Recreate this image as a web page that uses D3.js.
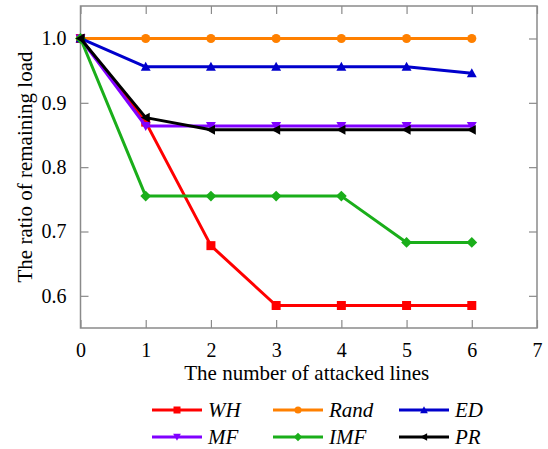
<!DOCTYPE html>
<html>
<head>
<meta charset="utf-8">
<script src="https://cdn.jsdelivr.net/npm/d3@7"></script>
<style>
  body { margin: 0; background: #fff; }
</style>
</head>
<body>
<svg id="chart" width="548" height="449"></svg>
<script>
"use strict";

var xValues = [0, 1, 2, 3, 4, 5, 6]
var xTicks = [0, 1, 2, 3, 4, 5, 6, 7]
var yTicks = [0.6, 0.7, 0.8, 0.9, 1.0]

var seriesNames = ["WH", "Rand", "ED", "MF", "IMF", "PR"]
var seriesColors = ["#ff0000", "#ff8000", "#0000cc", "#8000ff", "#1aae1a", "#000000"]
var seriesSymbols = ["square", "circle", "triUp", "triDown", "diamond", "triLeft"]

var whValues = [1.0, 0.870, 0.678, 0.585, 0.585, 0.585, 0.585]
var randValues = [1.0, 1.0, 1.0, 1.0, 1.0, 1.0, 1.0]
var edValues = [1.0, 0.956, 0.956, 0.956, 0.956, 0.956, 0.946]
var mfValues = [1.0, 0.864, 0.864, 0.864, 0.864, 0.864, 0.864]
var imfValues = [1.0, 0.755, 0.755, 0.755, 0.755, 0.683, 0.683]
var prValues = [1.0, 0.877, 0.858, 0.858, 0.858, 0.858, 0.858]

var allValues = [whValues, randValues, edValues, mfValues, imfValues, prValues]

var serif = "'Liberation Serif'"
var margin = {left: 80.5, top: 6, right: 11, bottom: 121}
var svg = d3.select("#chart")
var width = 548 - margin.left - margin.right
var height = 449 - margin.top - margin.bottom

var x = d3.scaleLinear().domain([0, 7]).range([0, width])
var y = d3.scaleLinear().domain([0.55, 1.0505]).range([height, 0])

var plot = svg.append("g")
    .attr("transform", "translate(" + margin.left + "," + margin.top + ")")

// ticks drawn inward on all four sides
var axisColor = "#8a8a8a"
function styleAxis(g) {
    g.select(".domain").remove()
    g.selectAll(".tick line").attr("stroke", axisColor).attr("stroke-width", 1.2)
    g.selectAll(".tick text").attr("fill", "#000")
        .style("font-family", serif).style("font-size", "20px")
}

plot.append("g")
    .attr("transform", "translate(0," + height + ")")
    .call(d3.axisBottom(x).tickValues(xTicks).tickFormat(d3.format("d")).tickSizeInner(-8).tickPadding(15))
    .call(styleAxis)
plot.append("g")
    .call(d3.axisTop(x).tickValues(xTicks).tickFormat("").tickSizeInner(-8))
    .call(styleAxis)
plot.append("g")
    .call(d3.axisLeft(y).tickValues(yTicks).tickFormat(d3.format(".1f")).tickSizeInner(-8).tickPadding(14))
    .call(styleAxis)
plot.append("g")
    .attr("transform", "translate(" + width + ",0)")
    .call(d3.axisRight(y).tickValues(yTicks).tickFormat("").tickSizeInner(-8))
    .call(styleAxis)

plot.append("rect")
    .attr("width", width).attr("height", height)
    .attr("fill", "none").attr("stroke", axisColor).attr("stroke-width", 1.5)

// axis titles
svg.append("text")
    .attr("x", margin.left + width / 2 - 2).attr("y", 380)
    .attr("text-anchor", "middle")
    .style("font-family", serif).style("font-size", "21px")
    .text("The number of attacked lines")
svg.append("text")
    .attr("transform", "translate(32," + (margin.top + height / 2) + ") rotate(-90)")
    .attr("text-anchor", "middle")
    .style("font-family", serif).style("font-size", "21px")
    .text("The ratio of remaining load")

function symbolPath(kind, s) {
    var h = s / 2
    if (kind === "square") return "M" + -h + "," + -h + "H" + h + "V" + h + "H" + -h + "Z"
    if (kind === "circle") return d3.symbol(d3.symbolCircle, s * s * 0.8)()
    if (kind === "triUp") return "M0," + (-h * 1.1) + "L" + (h * 1.1) + "," + (h * 0.9) + "L" + (-h * 1.1) + "," + (h * 0.9) + "Z"
    if (kind === "triDown") return "M0," + (h * 1.1) + "L" + (h * 1.1) + "," + (-h * 0.9) + "L" + (-h * 1.1) + "," + (-h * 0.9) + "Z"
    if (kind === "triLeft") return "M" + (-h * 1.1) + ",0L" + (h * 0.9) + "," + (-h * 1.1) + "L" + (h * 0.9) + "," + (h * 1.1) + "Z"
    if (kind === "diamond") return "M0," + (-h * 1.2) + "L" + (h * 1.2) + ",0L0," + (h * 1.2) + "L" + (-h * 1.2) + ",0Z"
}

var line = d3.line().x((d, i) => x(xValues[i])).y(d => y(d))

allValues.forEach(function (vals, k) {
    var g = plot.append("g")
    g.append("path").datum(vals)
        .attr("d", line).attr("fill", "none")
        .attr("stroke", seriesColors[k]).attr("stroke-width", 3)
        .attr("stroke-linejoin", "round")
    g.selectAll("path.m").data(vals).enter().append("path")
        .attr("class", "m")
        .attr("transform", (d, i) => "translate(" + x(xValues[i]) + "," + y(d) + ")")
        .attr("d", symbolPath(seriesSymbols[k], 9))
        .attr("fill", seriesColors[k])
})

// legend: 3 columns x 2 rows
var legendCols = [152, 273, 399]
var legendRows = [410, 437]
seriesNames.forEach(function (name, k) {
    var lx = legendCols[k % 3], ly = legendRows[Math.floor(k / 3)]
    var g = svg.append("g").attr("transform", "translate(" + lx + "," + ly + ")")
    g.append("line").attr("x1", 0).attr("x2", 50)
        .attr("stroke", seriesColors[k]).attr("stroke-width", 3)
    g.append("path").attr("transform", "translate(25,0)")
        .attr("d", symbolPath(seriesSymbols[k], 7))
        .attr("fill", seriesColors[k])
    g.append("text").attr("x", 56).attr("y", 7)
        .style("font-family", serif).style("font-size", "21px").style("font-style", "italic")
        .text(name)
})
</script>
</body>
</html>
